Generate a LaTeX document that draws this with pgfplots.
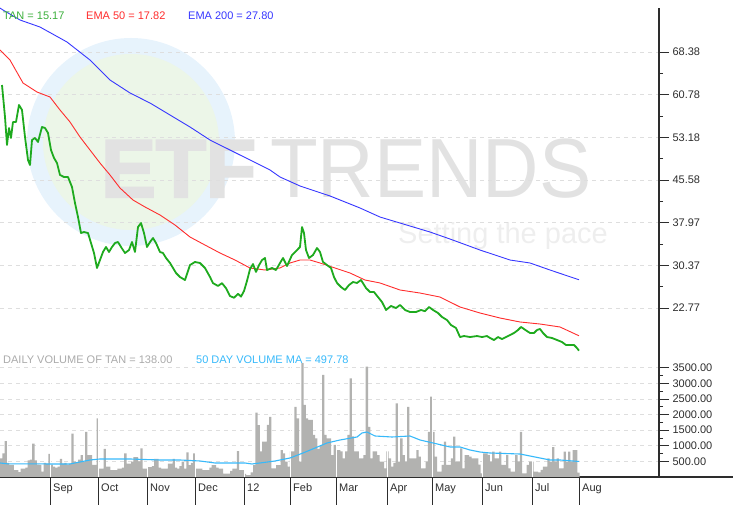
\documentclass[border=0pt]{standalone}
\usepackage{fontspec}
\setmainfont{Liberation Sans}
\newfontfamily\etffont[UprightFont={* Bold}, FakeBold=3]{Liberation Sans}
\usepackage{pgfplots}
\usepackage{pgfplotstable}
\pgfplotsset{compat=1.18}
\definecolor{tangreen}{RGB}{30,170,30}
\definecolor{tantext}{RGB}{60,175,60}
\definecolor{emared}{RGB}{255,45,45}
\definecolor{emablue}{RGB}{55,55,255}
\definecolor{volgray}{RGB}{178,178,176}
\definecolor{voltext}{RGB}{170,170,170}
\definecolor{macyan}{RGB}{55,185,250}
\definecolor{gridgray}{RGB}{222,222,222}
\definecolor{wmblue}{RGB}{231,243,252}
\definecolor{wmgreen}{RGB}{236,246,232}
\definecolor{wmgray}{RGB}{226,226,226}
\definecolor{wmlight}{RGB}{238,238,238}
\definecolor{axisdark}{RGB}{45,45,45}

\pgfplotstableread{
v
600
760
1150
450
385
385
220
220
160
270
270
300
530
560
1070
530
400
385
170
450
430
740
400
330
300
330
580
430
450
400
430
1390
490
480
560
700
490
1450
700
700
385
385
1880
270
270
900
330
330
220
220
220
270
270
300
760
430
430
490
640
640
500
920
270
270
320
320
350
580
580
300
270
270
270
430
430
580
300
270
350
490
270
790
380
450
760
270
270
270
220
220
220
300
380
380
300
270
270
110
110
110
200
270
270
830
220
220
100
60
60
150
380
2060
1660
820
1130
1130
1670
1930
280
280
380
380
860
760
490
330
820
820
2250
1880
490
3650
2310
1880
1830
1830
1350
1240
900
1000
3270
1350
1240
1240
700
1030
860
860
820
600
820
1350
3160
1300
820
820
600
600
700
3540
1610
600
820
820
700
490
490
280
820
600
330
450
2360
490
1240
700
500
2250
600
600
600
865
650
280
280
490
1450
2575
1450
650
170
170
385
1130
385
385
600
1290
490
490
920
280
700
700
650
600
600
600
400
118
760
760
705
490
810
600
600
810
385
385
705
278
171
171
705
500
1450
118
118
385
490
490
171
171
150
225
330
330
600
490
960
490
600
278
278
810
490
810
490
865
865
138
}\voldata

\pgfplotsset{
  chartbase/.style={
    scale only axis, width=659pt, xmin=0, xmax=659,
    axis y line*=right,
    every outer y axis line/.append style={-},
    every outer x axis line/.append style={-},
    axis line style={-, axisdark, line width=1.2pt},
    tick align=outside, major tick length=10pt, minor tick length=4pt,
    tick style={axisdark, line width=0.9pt},
    ymajorgrids,
    major grid style={gridgray, dash pattern=on 4pt off 4pt, line width=0.8pt},
    yticklabel pos=right,
    yticklabel style={font=\fontsize{11}{13}\selectfont, text=axisdark},
    /pgf/number format/assume math mode=true,
  }
}

\begin{document}
\begin{tikzpicture}[x=1pt,y=1pt]
\useasboundingbox (0,0) rectangle (733,505);
% watermark
\fill[wmblue] (131,363) circle (104);
\fill[wmgreen] (131,363) circle (88);
\node[anchor=base west, inner sep=0, text=wmgray, font=\fontsize{82}{82}\selectfont\etffont] at (101,308) {ETF};
\node[anchor=base west, inner sep=0, text=wmgray, font=\fontsize{84}{84}\selectfont, xscale=0.93] at (270,307) {TRENDS};
\node[anchor=base west, inner sep=0, text=wmlight, font=\fontsize{29}{29}\selectfont] at (398,261) {Setting the pace};

% price panel
\begin{axis}[chartbase,
  at={(0pt,150pt)}, anchor=south west, height=347pt,
  ymin=14.40, ymax=76.22,
  axis x line=none,
  ytick={22.77,30.37,37.97,45.58,53.18,60.78,68.38},
  yticklabels={22.77,30.37,37.97,45.58,53.18,60.78,68.38},
  minor ytick={26.57,34.17,41.775,49.38,56.98,64.58},
]
\addplot[emablue, line width=0.9pt] coordinates {
(0,76.2) (3,75.86) (20,74.08) (40,72.83) (67,70.16) (90,66.95) (110,63.39) (130,61.08)
(150,59.29) (170,57.16) (190,55.02) (210,52.70) (230,50.92) (250,49.14) (270,47.36)
(280,46.11) (300,44.51) (330,42.73) (360,40.59) (380,38.98) (400,37.91) (430,36.31)
(450,35.06) (480,33.10) (510,31.32) (530,30.79) (550,29.54) (579,27.80)
};
\addplot[emared, line width=0.9pt] coordinates {
(0,68.74) (10,66.95) (23,62.86) (37,61.25) (50,60.36) (60,58.05) (70,55.91) (80,53.24)
(90,50.92) (100,48.60) (110,46.47) (120,44.15) (133,42.01) (145,40.77) (160,39.34)
(175,37.56) (190,35.42) (205,33.99) (220,32.57) (235,31.32) (250,29.90) (265,29.54)
(280,29.90) (290,30.79) (300,31.32) (310,31.32) (320,30.79) (335,29.90) (350,29.01)
(365,27.76) (380,27.23) (400,25.98) (420,25.44) (440,24.73) (460,22.95) (480,21.88)
(500,20.99) (520,20.28) (540,19.92) (560,19.39) (579,17.82)
};
\addplot[tangreen, line width=1.8pt, line join=round] coordinates {
(2,62.50) (5,56.80) (7,51.81) (9,54.84) (11,53.06) (13,55.91) (16,55.91) (19,58.94)
(22,58.05) (25,53.24) (28,49.14) (30,48.25) (32,52.70) (35,53.06) (38,52.35) (42,55.02)
(45,54.84) (48,53.95) (51,50.92) (54,49.50) (57,48.60) (60,46.47) (64,46.11) (68,46.11)
(72,44.33) (75,41.48) (78,38.98) (81,36.13) (84,36.31) (88,36.13) (91,34.35) (94,32.57)
(97,29.90) (100,31.32) (103,32.75) (106,33.64) (109,32.75) (112,33.64) (115,34.35)
(118,34.53) (121,33.64) (125,32.57) (129,33.10) (132,34.53) (135,32.75) (138,37.20)
(141,37.91) (144,36.13) (147,33.64) (150,34.53) (153,35.24) (156,34.35) (160,32.75)
(163,32.57) (166,31.68) (170,30.79) (173,29.90) (176,29.01) (180,28.29) (185,27.76)
(190,30.43) (195,30.97) (200,30.79) (205,29.90) (210,28.30) (213,27.20) (218,26.70)
(222,27.20) (226,26.30) (230,24.90) (234,24.60) (238,25.30) (241,24.80) (244,25.80)
(247,27.60) (250,29.70) (253,30.60) (256,29.20) (259,30.40) (262,31.30) (265,31.68)
(267,29.54) (272,29.90) (276,29.54) (280,30.79) (283,31.68) (287,30.25) (292,32.21)
(297,33.10) (300,33.64) (302,37.20) (304,36.13) (306,33.10) (309,31.68) (313,32.21)
(317,33.46) (320,32.75) (323,30.97) (327,30.43) (331,29.90) (334,28.29) (337,27.23)
(341,26.51) (345,25.98) (349,26.87) (353,27.40) (357,27.23) (361,27.76) (366,26.33)
(370,25.62) (374,25.62) (378,24.73) (382,23.84) (386,22.42) (391,23.13) (396,22.77)
(400,23.31) (405,22.42) (410,22.06) (416,22.06) (421,22.42) (425,22.20) (429,22.95)
(433,22.42) (438,21.88) (442,21.17) (447,20.63) (451,19.74) (456,19.21) (460,17.60)
(464,17.78) (470,17.60) (477,17.78) (482,17.60) (487,17.78) (490,17.43) (494,17.07)
(498,17.60) (502,17.25) (506,17.60) (510,17.96) (514,18.32) (518,18.85) (521,19.39)
(524,19.03) (527,18.67) (530,18.32) (534,18.32) (537,18.85) (540,19.03) (543,18.32)
(547,17.60) (552,17.43) (557,17.07) (562,16.71) (566,16.18) (570,16.18) (574,16.18)
(577,15.64) (579,15.17)
};
\end{axis}

% volume panel
\begin{axis}[chartbase,
  at={(0pt,28pt)}, anchor=south west, height=122pt,
  ymin=0, ymax=3910,
  axis x line*=bottom,
  xtick={50,98,147,195,244,290,336,387,432,482,532,579},
  xticklabels={,,,,,,,,,,,},
  xtick style={/pgfplots/major tick length=28pt},
  ytick={500,1000,1500,2000,2500,3000,3500},
  yticklabels={500.00,1000.00,1500.00,2000.00,2500.00,3000.00,3500.00},
  minor ytick={750,1250,1750,2250,2750,3250},
]
\addplot[ybar, bar width=2.3, fill=volgray, draw=none] table[x expr={1.15+2.3*\coordindex}, y=v] {\voldata};
\foreach \m in {50,98,147,195,244,290,336,387,432,482,532} {
  \edef\tmp{\noexpand\draw[white, line width=1pt] (axis cs:\m,0) -- (axis cs:\m,3700);}\tmp
}
\addplot[macyan, line width=1.1pt] coordinates {
(0,449) (8,420) (70,417) (80,481) (90,545) (100,577) (130,577) (160,545) (180,545)
(200,513) (215,449) (245,449) (252,417) (260,449) (275,513) (290,609) (303,769)
(315,929) (327,1090) (340,1186) (357,1282) (362,1410) (367,1442) (375,1314)
(392,1282) (410,1314) (420,1186) (433,1090) (450,962) (460,962) (470,865)
(480,801) (490,769) (520,737) (535,641) (550,545) (560,545) (579,498)
};
\end{axis}

\draw[axisdark, line width=1.2pt] (659,28) -- (733,28);

% legends
\begin{scope}[every node/.style={anchor=west, inner sep=0, font=\fontsize{11}{13}\selectfont}]
\node[text=tantext] at (3,489) {TAN = 15.17};
\node[text=emared] at (86,489) {EMA 50 = 17.82};
\node[text=emablue] at (188,489) {EMA 200 = 27.80};
\node[text=voltext] at (3,145) {DAILY VOLUME OF TAN = 138.00};
\node[text=macyan] at (196,145) {50 DAY VOLUME MA = 497.78};
\end{scope}
\begin{scope}[every node/.style={anchor=base west, inner sep=0, font=\fontsize{11}{13}\selectfont, text=axisdark}]
\node at (53,13) {Sep};
\node at (101,13) {Oct};
\node at (150,13) {Nov};
\node at (198,13) {Dec};
\node at (247,13) {12};
\node at (293,13) {Feb};
\node at (339,13) {Mar};
\node at (390,13) {Apr};
\node at (435,13) {May};
\node at (485,13) {Jun};
\node at (535,13) {Jul};
\node at (582,13) {Aug};
\end{scope}
\end{tikzpicture}
\end{document}
